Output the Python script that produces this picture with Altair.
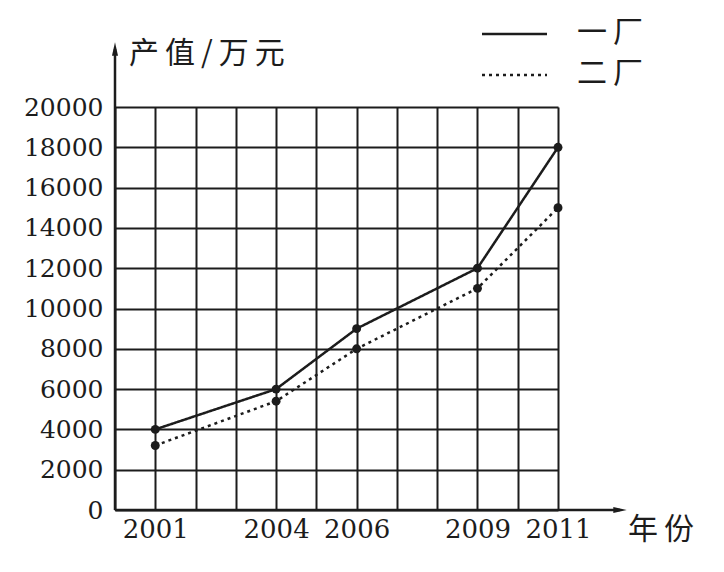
import altair as alt
import pandas as pd

# ---- data ----
years = [2001, 2004, 2006, 2009, 2011]
factory1 = [4000, 6000, 9000, 12000, 18000]   # 一厂 (solid)
factory2 = [3200, 5400, 8000, 11000, 15000]   # 二厂 (dotted)
series_names = ["一厂", "二厂"]
grid_years = list(range(2000, 2012))
y_ticks = list(range(0, 20001, 2000))
y_title = "产值/万元"
x_title = "年份"

df = pd.DataFrame({
    "年份": years * 2,
    "产值": factory1 + factory2,
    "厂": [series_names[0]] * len(years) + [series_names[1]] * len(years),
})
one = pd.DataFrame({"k": [0]})

W, H = 443, 403
ink = "#1c1c1c"
serif = "DejaVu Serif"
cjk = "Noto Sans CJK SC"
THIN = "\u2009"


def spaced(s):
    return THIN.join(list(s))


label_expr = f"indexof({years}, datum.value) >= 0 ? datum.label : ''"

x_enc = alt.X(
    "年份:Q",
    scale=alt.Scale(domain=[2000, 2011], nice=False, zero=False),
    axis=alt.Axis(
        values=grid_years, format="d", labelExpr=label_expr, grid=True,
        gridColor=ink, gridWidth=2, gridOpacity=1, domain=False, ticks=False,
        labelFont=serif, labelFontSize=26, labelColor=ink, labelPadding=6,
        labelFlush=False, labelOverlap=False, title=None,
    ),
)
y_enc = alt.Y(
    "产值:Q",
    scale=alt.Scale(domain=[0, 20000], nice=False),
    axis=alt.Axis(
        values=y_ticks, format="d", grid=True, gridColor=ink, gridWidth=2,
        gridOpacity=1, domain=False, ticks=False, labelFont=serif,
        labelFontSize=25, labelColor=ink, labelPadding=12, labelFlush=False,
        labelOverlap=False, title=None,
    ),
)

dash = alt.StrokeDash(
    "厂:N",
    scale=alt.Scale(domain=series_names, range=[[1, 0], [3, 4]]),
    legend=None,
)

lines = alt.Chart(df).mark_line(color=ink, strokeWidth=2.5).encode(
    x=x_enc, y=y_enc, strokeDash=dash, detail="厂:N"
)
points = alt.Chart(df).mark_circle(color=ink, size=80, opacity=1).encode(
    x="年份:Q", y="产值:Q"
)

# axes with arrows
x_axis = alt.Chart(one).mark_rule(color=ink, strokeWidth=2.5).encode(
    x=alt.value(0), x2=alt.value(505), y=alt.value(H)
)
x_arrow = alt.Chart(one).mark_point(
    shape="M -1 -0.45 L 1 0 L -1 0.45 Z", filled=True, size=180, color=ink, opacity=1
).encode(x=alt.value(505), y=alt.value(H))
y_axis = alt.Chart(one).mark_rule(color=ink, strokeWidth=2.5).encode(
    x=alt.value(0), y=alt.value(-58), y2=alt.value(H)
)
y_arrow = alt.Chart(one).mark_point(
    shape="M -0.45 1 L 0 -1 L 0.45 1 Z", filled=True, size=180, color=ink, opacity=1
).encode(x=alt.value(0), y=alt.value(-58))

y_lab = alt.Chart(one).mark_text(
    text=spaced(y_title), font=cjk, fontSize=30, align="left", baseline="middle", color=ink
).encode(x=alt.value(14), y=alt.value(-53))
x_lab = alt.Chart(one).mark_text(
    text=spaced(x_title), font=cjk, fontSize=30, align="left", baseline="middle", color=ink
).encode(x=alt.value(513), y=alt.value(423))

# legend
leg1_line = alt.Chart(one).mark_rule(color=ink, strokeWidth=2.5).encode(
    x=alt.value(367), x2=alt.value(432), y=alt.value(-73)
)
leg1_text = alt.Chart(one).mark_text(
    text=spaced(series_names[0]), font=cjk, fontSize=30, align="left", baseline="middle", color=ink
).encode(x=alt.value(462), y=alt.value(-74))
leg2_line = alt.Chart(one).mark_rule(color=ink, strokeWidth=2.5, strokeDash=[3, 4]).encode(
    x=alt.value(367), x2=alt.value(432), y=alt.value(-32)
)
leg2_text = alt.Chart(one).mark_text(
    text=spaced(series_names[1]), font=cjk, fontSize=30, align="left", baseline="middle", color=ink
).encode(x=alt.value(462), y=alt.value(-33))

chart = alt.layer(
    lines, points, x_axis, x_arrow, y_axis, y_arrow, y_lab, x_lab,
    leg1_line, leg1_text, leg2_line, leg2_text,
).properties(
    width=W, height=H,
    autosize=alt.AutoSizeParams(type="none"),
    padding={"left": 107, "top": 99, "right": 150, "bottom": 45},
).configure_view(stroke=ink, strokeWidth=2).configure(background="white")

chart.save("out.html", embed_options={"renderer": "svg", "actions": False})
